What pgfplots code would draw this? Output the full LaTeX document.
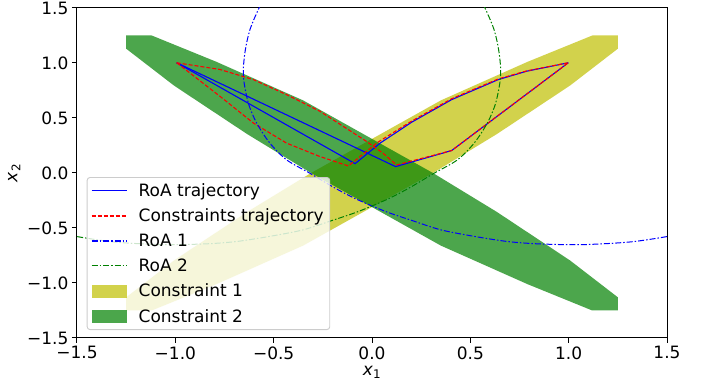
\documentclass[border=0pt]{standalone}
\usepackage{pgfplots}
\pgfplotsset{compat=1.18}
\usepackage{fontspec}
\setmainfont{DejaVu Sans}
\definecolor{cyel}{rgb}{0.75,0.75,0}
\definecolor{cgrn}{rgb}{0,0.5,0}
\definecolor{lframe}{rgb}{0.8,0.8,0.8}
\newcommand{\fs}{\fontsize{17}{20.4}\selectfont}
\begin{document}
\begin{tikzpicture}
\path[use as bounding box] (-77pt,-49pt) rectangle (631pt,338pt);
\begin{axis}[
  scale only axis, width=590pt, height=330pt,
  xmin=-1.5, xmax=1.5, ymin=-1.5, ymax=1.5,
  axis line style={black, line width=1pt},
  tick align=outside, xtick pos=left, ytick pos=left,
  major tick length=5pt, tick style={black, line width=1pt},
  xtick={-1.5,-1,-0.5,0,0.5,1,1.5},
  ytick={-1.5,-1,-0.5,0,0.5,1,1.5},
  xticklabels={−1.5,−1.0,−0.5,0.0,0.5,1.0,1.5},
  yticklabels={−1.5,−1.0,−0.5,0.0,0.5,1.0,1.5},
  tick label style={font=\fs},
  label style={font=\fs},
  xlabel={\textit{x}\textsubscript{1}},
  ylabel={\textit{x}\textsubscript{2}},
  legend cell align=left,
  legend image code/.code={\draw[#1, line width=1.1pt, draw opacity=1] (0pt,0pt) -- (35pt,0pt); \path[draw=none,fill=none] (0pt,0pt) -- (45pt,0pt);},
  legend style={font=\fs, at={(0.0164,0.024)}, anchor=south west,
    fill=white, fill opacity=0.8, draw opacity=1, text opacity=1,
    draw=lframe, line width=0.9pt, rounded corners=3pt, row sep=6.9pt, inner sep=4pt},
]
% Constraint 1 (yellow)
\addplot[fill=cyel, fill opacity=0.7, draw=none, forget plot] coordinates {
(-1.25,-1.25) (-1.12,-1.25) (-0.79,-1.01) (-0.35,-0.66) (0.31,0) (0.634,0.353) (1.007,0.795) (1.25,1.13) (1.25,1.25) (1.12,1.25) (0.79,1.01) (0.35,0.66) (-0.31,0) (-0.634,-0.353) (-1.007,-0.795) (-1.25,-1.13)} --cycle;
% Constraint 2 (green)
\addplot[fill=cgrn, fill opacity=0.7, draw=none, forget plot] coordinates {
(-1.25,1.25) (-1.12,1.25) (-0.79,1.01) (-0.35,0.66) (0.31,0) (0.634,-0.353) (1.007,-0.795) (1.25,-1.13) (1.25,-1.25) (1.12,-1.25) (0.79,-1.01) (0.35,-0.66) (-0.31,0) (-0.634,0.353) (-1.007,0.795) (-1.25,1.13)} --cycle;
% RoA trajectories (blue)
\addplot[blue, line width=1.1pt] coordinates {
(-0.993,1.002) (-0.086,0.085) (0.041,0.271) (0.2,0.46) (0.405,0.667) (0.642,0.849) (0.786,0.925) (0.998,1.002)};
\addlegendentry{RoA trajectory}
\addplot[blue, line width=1.1pt, forget plot] coordinates {
(-0.993,1.002) (0.12,0.058) (0.405,0.204) (0.998,1.002)};
% Constraints trajectories (red dashed)
\addplot[red, line width=1.1pt, dash pattern=on 4pt off 2pt] coordinates {
(-0.993,1.002) (-0.773,0.697) (-0.603,0.454) (-0.434,0.271) (-0.264,0.149) (-0.12,0.064) (0.03,0.28) (0.2,0.47) (0.405,0.675) (0.642,0.855) (0.786,0.928) (0.998,1.002)};
\addlegendentry{Constraints trajectory}
\addplot[red, line width=1.1pt, dash pattern=on 4pt off 2pt, forget plot] coordinates {
(-0.993,1.002) (-0.773,0.941) (-0.603,0.849) (-0.434,0.712) (-0.264,0.56) (-0.027,0.286) (0.056,0.18) (0.125,0.073) (0.405,0.204) (0.998,1.002)};
% RoA 1 (blue dash-dot)
\addplot[blue, line width=1pt, smooth, dash pattern=on 6pt off 2pt on 1.5pt off 2pt] coordinates {
(-0.53,1.62) (-0.569,1.519) (-0.620,1.306) (-0.646,1.096) (-0.654,0.879) (-0.629,0.637) (-0.586,0.453) (-0.519,0.271) (-0.434,0.119) (-0.315,-0.003) (-0.2,-0.125) (-0.1,-0.22) (0.0,-0.30) (0.092,-0.365) (0.2,-0.43) (0.346,-0.515) (0.5,-0.57) (0.685,-0.622) (0.854,-0.645) (1.073,-0.651) (1.312,-0.627) (1.5,-0.578) (1.6,-0.54)};
\addlegendentry{RoA 1}
% RoA 2 (green dash-dot)
\addplot[cgrn, line width=1pt, smooth, dash pattern=on 6pt off 2pt on 1.5pt off 2pt] coordinates {
(0.53,1.62) (0.569,1.519) (0.620,1.306) (0.646,1.096) (0.654,0.879) (0.629,0.637) (0.586,0.453) (0.519,0.271) (0.434,0.119) (0.315,-0.003) (0.2,-0.125) (0.1,-0.22) (0.0,-0.30) (-0.092,-0.365) (-0.2,-0.43) (-0.346,-0.515) (-0.5,-0.57) (-0.685,-0.622) (-0.854,-0.645) (-1.073,-0.651) (-1.312,-0.627) (-1.5,-0.578) (-1.6,-0.54)};
\addlegendentry{RoA 2}
\addlegendimage{legend image code/.code={\fill[cyel, fill opacity=0.7, draw=none, rounded corners=0pt] (0pt,-6.5pt) rectangle (35pt,6.5pt); \path[draw=none,fill=none] (0pt,0pt) -- (45pt,0pt);}}
\addlegendentry{Constraint 1}
\addlegendimage{legend image code/.code={\fill[cgrn, fill opacity=0.7, draw=none, rounded corners=0pt] (0pt,-6.5pt) rectangle (35pt,6.5pt); \path[draw=none,fill=none] (0pt,0pt) -- (45pt,0pt);}}
\addlegendentry{Constraint 2}
\end{axis}
\end{tikzpicture}
\end{document}
